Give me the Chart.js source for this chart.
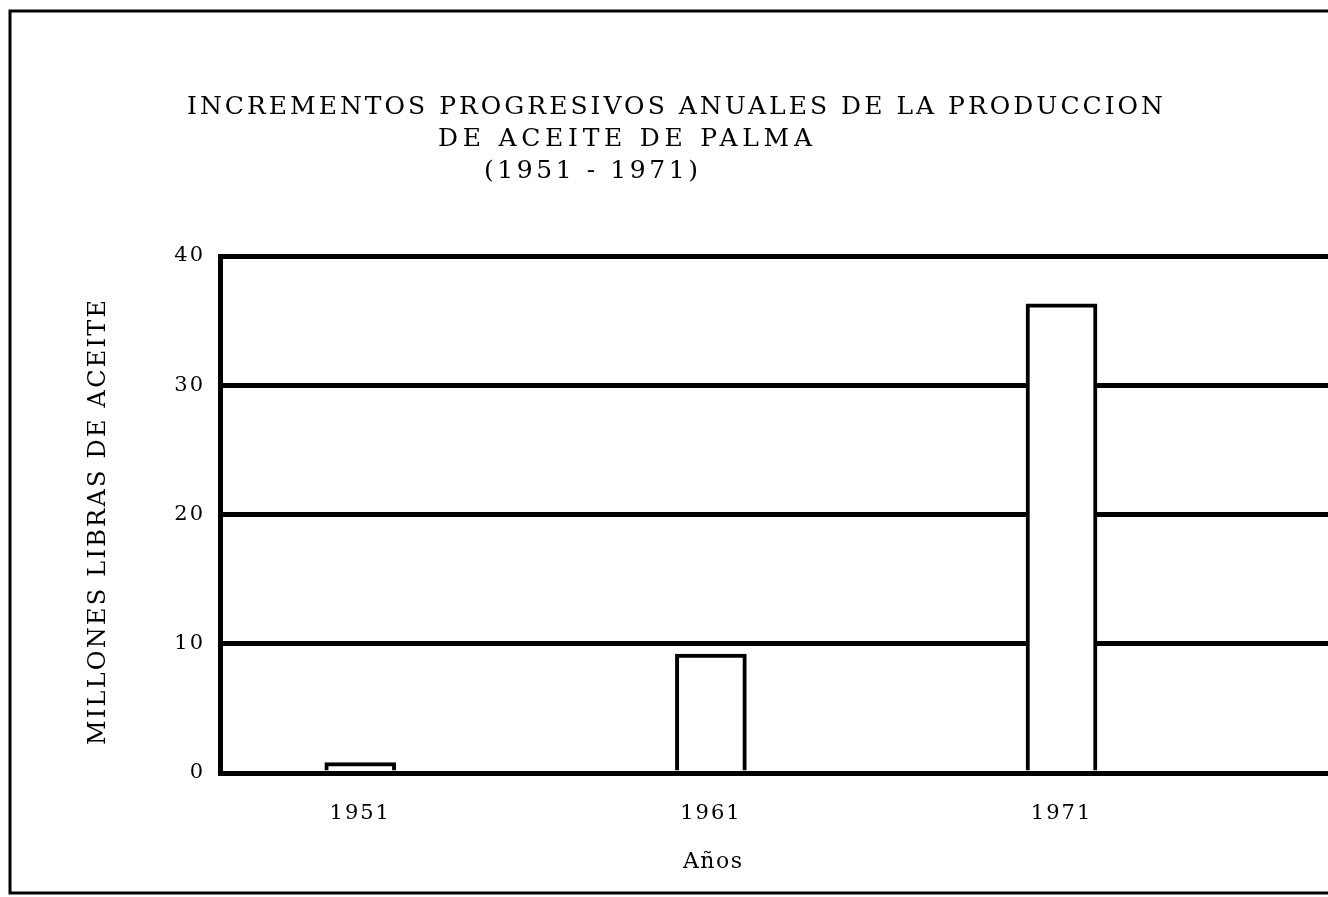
<!DOCTYPE html>
<html>
<head>
<meta charset="utf-8">
<title>Incrementos progresivos anuales de la produccion de aceite de palma</title>
<script src="https://cdn.jsdelivr.net/npm/chart.js@4/dist/chart.umd.min.js"></script>
<style>
  html, body { margin: 0; padding: 0; background: #fff; }
  #chart { display: block; }
</style>
</head>
<body>
<canvas id="chart" width="1328" height="897"></canvas>
<script>
// datos
var years = [1951, 1961, 1971];
var production = [0.8, 9.2, 36.3];   // millones de libras de aceite
var yTicks = [0, 10, 20, 30, 40];

var titleLines = [
    "INCREMENTOS PROGRESIVOS ANUALES DE LA PRODUCCION",
    "DE ACEITE DE PALMA",
    "(1951 - 1971)"
];
var yTitle = "MILLONES LIBRAS DE ACEITE";
var xTitle = "Años";

var serif = "'DejaVu Serif', 'Liberation Serif', serif";

// draws text so it fills a given width (old typewriter spacing)
var spacedText = function(ctx, text, x, y, width, size) {
    ctx.font = size + "px " + serif;
    ctx.letterSpacing = "0px";
    var w = ctx.measureText(text).width;
    var sp = (width - w) / (text.length - 1);
    ctx.letterSpacing = sp + "px";
    ctx.fillText(text, x, y);
    ctx.letterSpacing = "0px";
};

var textPlugin = {
    id: 'paperText',
    beforeDraw: function(chart) {
        var ctx = chart.ctx;
        ctx.save();
        ctx.fillStyle = "#fff";
        ctx.fillRect(0, 0, chart.width, chart.height);
        ctx.restore();
        chart.ctx.letterSpacing = "2px";
    },
    afterDraw: function(chart) {
        var ctx = chart.ctx;
        ctx.save();
        ctx.fillStyle = "#000";
        ctx.textAlign = "left";
        ctx.textBaseline = "alphabetic";

        spacedText(ctx, titleLines[0], 187, 114, 976, 25);
        spacedText(ctx, titleLines[1], 438, 146, 374, 25);
        spacedText(ctx, titleLines[2], 484, 178, 214, 25);

        spacedText(ctx, xTitle, 683, 868, 59, 22);

        ctx.save();
        ctx.translate(105, 745);
        ctx.rotate(-Math.PI / 2);
        spacedText(ctx, yTitle, 0, 0, 445, 24);
        ctx.restore();

        // marco exterior
        ctx.strokeStyle = "#000";
        ctx.lineWidth = 3;
        ctx.strokeRect(10, 11, 1400, 882);
        ctx.restore();
    }
};

var ctx = document.getElementById("chart").getContext("2d");

var chart = new Chart(ctx, {
    type: 'bar',
    data: {
        datasets: [{
            data: years.map(function(y, i) {
                return { x: y, y: production[i] };
            }),
            backgroundColor: "#fff",
            borderColor: "#000",
            borderWidth: 4,
            barThickness: 71
        }]
    },
    options: {
        responsive: false,
        animation: false,
        layout: {
            padding: { left: 160, top: 256, right: 0, bottom: 0 }
        },
        plugins: {
            legend: { display: false },
            tooltip: { enabled: false },
            title: { display: false }
        },
        scales: {
            x: {
                type: 'linear',
                offset: false,
                min: 1947,
                max: 1978.6,
                grid: { display: false, drawTicks: false, offset: false },
                border: { display: true, color: "#000", width: 5 },
                afterBuildTicks: function(scale) {
                    scale.ticks = years.map(function(v) { return { value: v }; });
                },
                afterFit: function(scale) {
                    scale.height = 124;
                },
                ticks: {
                    color: "#000",
                    padding: 28,
                    font: { family: serif, size: 21 },
                    callback: function(v) { return String(v); }
                }
            },
            y: {
                min: 0,
                max: 40,
                afterBuildTicks: function(scale) {
                    scale.ticks = yTicks.map(function(v) { return { value: v }; });
                },
                afterFit: function(scale) {
                    scale.width = 60;
                },
                grid: { color: "#000", lineWidth: 5, drawTicks: false },
                border: { display: true, color: "#000", width: 5 },
                ticks: {
                    color: "#000",
                    padding: 15,
                    font: { family: serif, size: 21 }
                }
            }
        }
    },
    plugins: [textPlugin]
});
</script>
</body>
</html>
